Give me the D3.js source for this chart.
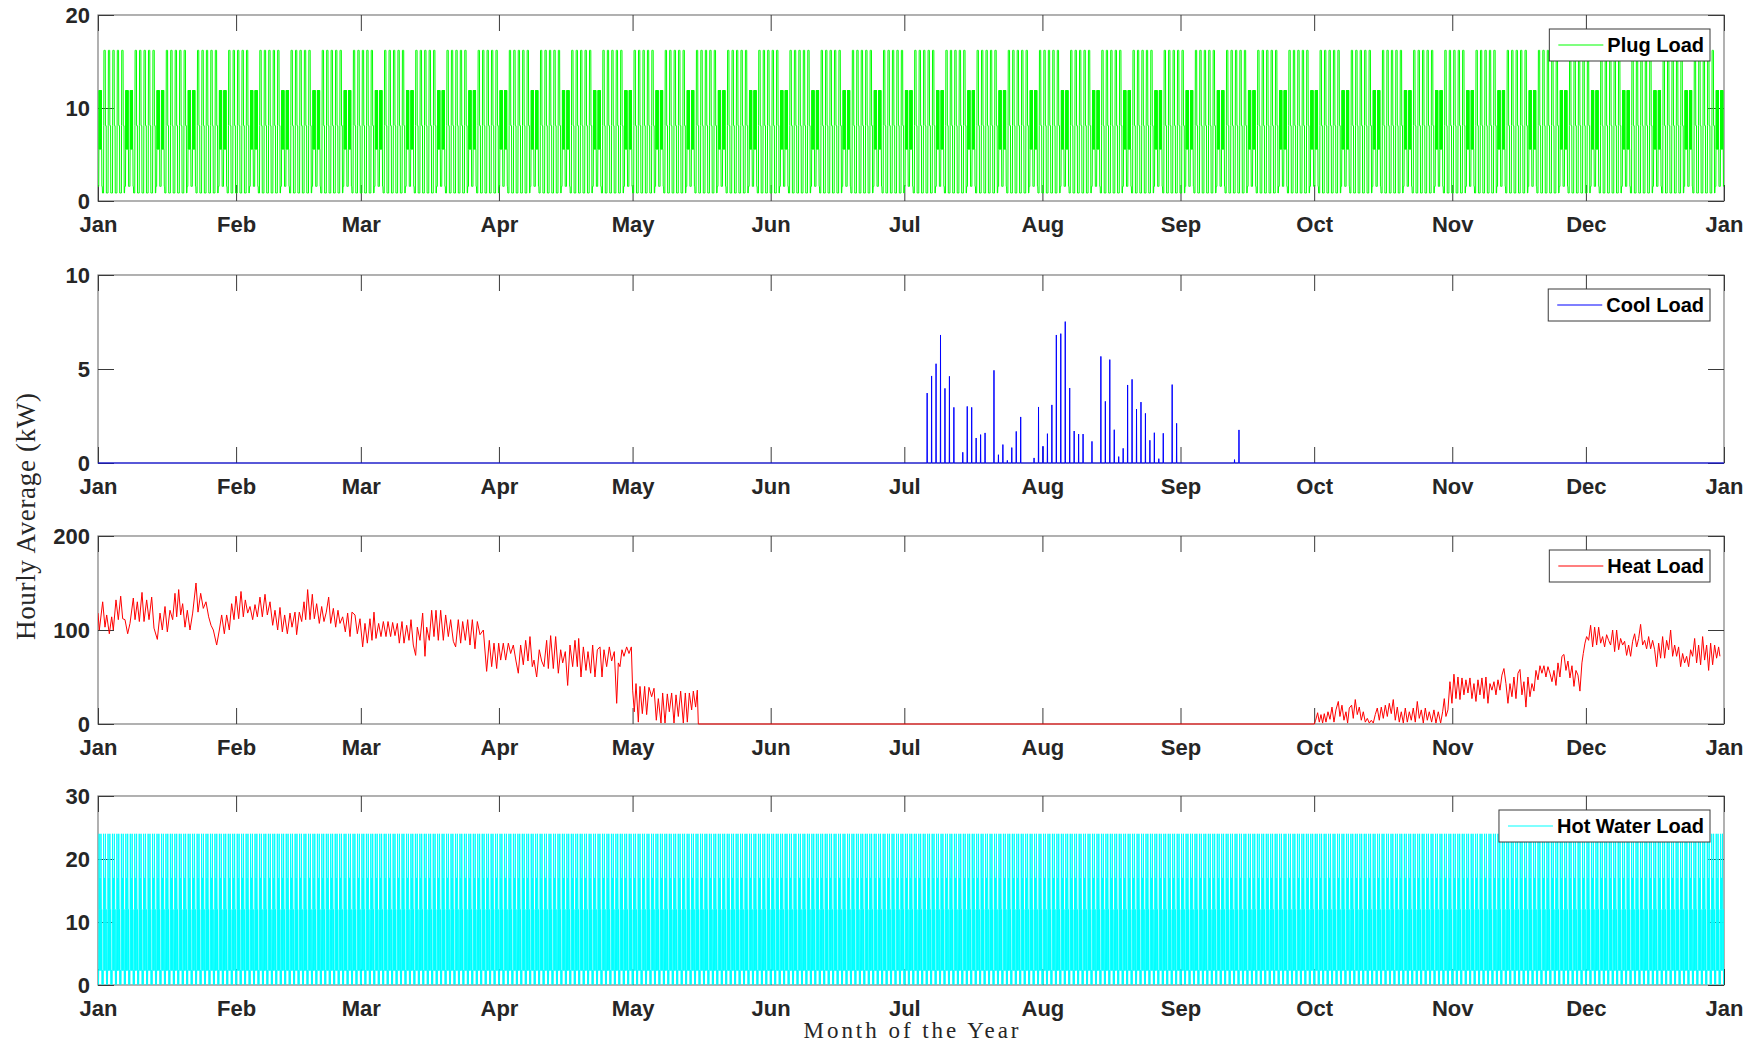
<!DOCTYPE html>
<html>
<head>
<meta charset="utf-8">
<script src="https://cdn.jsdelivr.net/npm/d3@7"></script>
<style>
  body { margin: 0; background: #fff; }
  text { font-family: "Liberation Sans", Arial, sans-serif; }
</style>
</head>
<body>
<svg id="chart" width="1763" height="1044"></svg>
<script>
// ---- calendar ----
const monthStarts = [0, 31, 59, 90, 120, 151, 181, 212, 243, 273, 304, 334, 365];
const monthLabels = ["Jan", "Feb", "Mar", "Apr", "May", "Jun", "Jul", "Aug", "Sep", "Oct", "Nov", "Dec", "Jan"];
const firstDayOfWeek = 0;          // Jan 1 falls on a Sunday
const weekendDays = [0, 6];        // Sunday, Saturday

// ---- plug load schedules (kW, hour 0..23) ----
const plugWeekday = [0.86, 0.86, 0.86, 0.86, 0.86, 0.86, 0.86, 8.1, 16.2, 16.2, 16.2, 16.2,
                     16.2, 16.2, 16.2, 16.2, 8.1, 8.1, 8.1, 8.1, 8.1, 0.86, 0.86, 0.86];
const plugWeekend = [1.57, 1.57, 1.57, 1.57, 1.57, 5.57, 11.9, 5.57, 11.9, 5.57, 11.9, 5.57,
                     11.9, 5.57, 11.9, 5.57, 11.9, 5.57, 11.9, 5.57, 5.57, 1.57, 1.57, 1.57];

// ---- hot water schedule (kW, hour 0..23) ----
const hotWaterDaily = [2.3, 0.1, 2.3, 0.1, 2.3, 12, 24, 17, 12, 2.3, 12, 17,
                       12, 2.3, 12, 17, 24, 17, 12, 2.3, 12, 2.3, 0.1, 2.3];

// ---- cooling events: [day of year, peak kW] ----
const coolEvents = [
  [186, 3.72], [187, 4.63], [188, 5.28], [189, 6.81], [190, 3.97], [191, 4.61], [192, 2.96],
  [194, 0.57], [195, 3.01], [196, 2.96], [197, 1.33], [198, 1.51], [199, 1.60], [201, 4.93],
  [202, 0.44], [203, 0.98], [204, 0.14], [205, 0.82], [206, 1.68], [207, 2.45], [210, 0.27],
  [211, 2.98], [212, 0.90], [213, 1.56], [214, 3.09], [215, 6.81], [216, 6.88], [217, 7.52],
  [218, 3.99], [219, 1.70], [220, 1.54], [221, 1.54], [223, 1.15], [225, 5.67], [226, 3.28],
  [227, 5.50], [228, 1.77], [229, 0.34], [230, 0.78], [231, 4.15], [232, 4.45], [233, 2.87],
  [234, 3.24], [235, 2.64], [236, 1.21], [237, 1.61], [238, 0.23], [239, 1.58], [241, 4.17],
  [242, 2.11], [255, 0.18], [256, 1.76]
];
const coolPeakHour = 3;

// ---- heating load: [day of year, kW] ----
const heatSpring = [
  [0,118],[0.3,100],[1.05,130],[1.57,103],[1.95,116],[2.54,96],[3.07,114],[3.44,100],[4.04,132],[4.56,111],
  [5.09,136],[5.54,112],[6.06,111],[6.66,96],[7.18,107],[7.93,134],[8.31,111],[8.83,130],[9.28,109],[9.88,140],
  [10.33,109],[10.92,132],[11.45,111],[12.05,135],[12.57,102],[13.32,90],[13.92,118],[14.44,100],[15.04,125],[15.56,98],
  [16.16,121],[16.76,111],[17.28,139],[17.66,114],[18.11,143],[18.56,116],[19.0,128],[19.53,103],[20.05,121],[20.65,100],
  [21.25,118],[22.0,150],[22.45,119],[23.05,139],[23.64,123],[24.24,130],[24.84,114],[25.37,105],[25.89,100],[26.64,84],
  [27.24,100],[27.76,116],[28.36,96],[28.88,116],[29.48,100],[30.0,128],[30.53,111],[30.98,136],[31.58,112],[32.1,141],
  [32.62,114],[33.07,132],[33.6,118],[34.12,125],[34.72,111],[35.24,127],[35.77,114],[36.36,135],[36.89,114],[37.49,138],
  [38.01,116],[38.61,130],[39.21,105],[39.73,121],[40.33,100],[40.85,124],[41.38,98],[41.9,116],[42.5,96],[43.1,118],
  [43.55,103],[44.22,119],[44.59,95],[45.19,119],[45.72,109],[46.24,130],[46.62,111],[47.06,143],[47.59,111],[48.11,138],
  [48.56,112],[49.08,128],[49.68,107],[50.21,125],[50.73,109],[51.25,119],[51.78,135],[52.23,107],[52.83,123],[53.35,103],
  [53.87,121],[54.32,107],[54.92,114],[55.52,98],[56.04,118],[56.57,93],[57.01,119],[57.69,116],[58.21,96],[58.81,112],
  [59.41,82],[59.93,107],[60.46,86],[61.05,112],[61.5,89],[61.95,119],[62.4,91],[63.0,107],[63.52,93],[64.05,109],
  [64.65,93],[65.1,109],[65.69,93],[66.14,108],[66.67,94],[67.19,107],[67.64,86],[68.24,109],[68.69,86],[69.29,105],
  [69.81,89],[70.26,111],[70.78,84],[71.31,73],[71.68,103],[72.28,89],[72.88,118],[73.4,72],[73.78,103],[74.37,89],
  [74.9,121],[75.42,93],[75.87,121],[76.39,89],[76.92,121],[77.52,89],[78.04,116],[78.64,93],[79.16,111],[79.76,88],
  [80.28,82],[80.88,111],[81.41,86],[81.86,109],[82.45,89],[82.98,111],[83.5,84],[84.03,111],[84.62,80],[85.15,109],
  [85.75,95],[86.5,100],[87.24,56],[87.84,89],[88.37,61],[88.89,86],[89.49,59],[89.94,86],[90.39,68],[90.98,86],
  [91.51,68],[92.11,86],[92.63,75],[93.23,84],[93.83,67],[94.35,54],[94.87,84],[95.47,63],[96.0,89],[96.52,67],
  [96.97,93],[97.49,61],[97.87,68],[98.47,50],[99.06,79],[99.59,67],[100.11,61],[100.71,89],[101.09,59],[101.61,94],
  [102.21,59],[102.73,93],[103.33,54],[103.86,79],[104.31,65],[104.9,77],[105.43,41],[105.95,84],[106.55,61],[107.07,89],
  [107.6,61],[107.9,91],[108.42,50],[108.95,82],[109.54,57],[109.99,77],[110.59,54],[111.04,84],[111.56,50],[112.09,79],
  [112.69,82],[113.14,50],[113.58,79],[114.18,61],[114.78,82],[115.3,67],[115.9,77],[116.43,22],[116.8,65],[117.17,61],
  [117.62,79],[118.07,72],[118.67,82],[119.2,75],[119.72,82],[120.02,36],[120.39,13],[120.77,43],[121.29,2],[121.66,40],
  [122.19,11],[122.71,40],[123.16,10],[123.68,39],[124.28,29],[124.81,38],[125.33,4],[125.78,27],[126.38,1],[126.75,33],
  [127.28,1],[127.8,32],[128.25,13],[128.77,33],[129.3,1],[129.75,31],[130.27,8],[130.79,35],[131.39,1],[131.84,33],
  [132.29,2],[132.74,33],[133.26,15],[133.64,35],[134.16,18],[134.53,36],[134.76,0]
];
const heatAutumn = [
  [273.03,0],[273.33,4],[273.78,12],[274.15,2],[274.53,10],[274.9,1],[275.27,11],[275.65,2],[276.1,13],[276.55,5],
  [277.0,18],[277.45,2],[277.89,15],[278.42,24],[278.79,8],[279.24,20],[279.69,4],[280.14,13],[280.51,1],[280.89,17],
  [281.41,20],[281.78,6],[282.23,26],[282.68,10],[283.13,18],[283.58,4],[284.03,13],[284.48,2],[284.93,6],[285.38,1],
  [285.82,4],[286.27,1],[286.72,10],[287.17,17],[287.62,4],[288.07,18],[288.52,6],[288.97,20],[289.42,8],[289.87,22],
  [290.31,11],[290.76,26],[291.21,4],[291.66,18],[292.11,2],[292.56,13],[293.01,1],[293.46,17],[293.91,2],[294.36,13],
  [294.8,4],[295.25,17],[295.7,2],[296.15,24],[296.6,6],[297.05,15],[297.5,1],[297.95,17],[298.4,4],[298.84,13],
  [299.37,2],[299.89,15],[300.34,1],[300.86,13],[301.39,1],[301.84,13],[302.21,27],[302.58,8],[303.03,15],[303.48,45],
  [303.93,22],[304.38,53],[304.83,27],[305.28,50],[305.73,26],[306.18,49],[306.62,31],[307.07,47],[307.52,33],[307.97,49],
  [308.42,27],[308.87,43],[309.32,24],[309.77,47],[310.22,31],[310.66,49],[311.11,27],[311.56,50],[312.01,22],[312.46,43],
  [312.91,36],[313.36,45],[313.81,31],[314.26,47],[314.71,36],[315.15,52],[315.6,59],[316.05,43],[316.5,22],[316.95,43],
  [317.4,29],[317.85,50],[318.3,27],[318.75,54],[319.2,58],[319.64,31],[320.09,45],[320.54,18],[320.99,50],[321.44,29],
  [321.89,43],[322.34,35],[322.79,57],[323.24,47],[323.69,62],[324.13,54],[324.58,62],[325.03,50],[325.48,61],[325.93,54],
  [326.38,45],[326.83,57],[327.28,41],[327.73,65],[328.17,50],[328.62,72],[329.07,74],[329.52,57],[329.97,67],[330.42,49],
  [330.87,62],[331.32,40],[331.77,57],[332.22,52],[332.66,35],[333.11,65],[333.41,75],[333.79,86],[334.16,93],[334.61,89],
  [335.06,105],[335.51,82],[335.96,103],[336.41,84],[336.86,103],[337.31,86],[337.75,93],[338.2,82],[338.65,95],[339.1,89],
  [339.55,84],[340.0,100],[340.45,77],[340.9,100],[341.35,79],[341.79,91],[342.24,84],[342.69,88],[343.14,73],[343.59,84],
  [344.04,72],[344.49,88],[344.94,96],[345.39,82],[345.84,91],[346.28,106],[346.73,84],[347.18,89],[347.63,80],[348.08,93],
  [348.53,80],[348.98,89],[349.43,79],[349.88,61],[350.33,86],[350.77,70],[351.22,93],[351.67,70],[352.12,89],[352.57,79],
  [353.02,100],[353.47,72],[353.92,84],[354.36,72],[354.81,82],[355.26,61],[355.71,75],[356.16,65],[356.61,72],[357.06,61],
  [357.51,79],[357.96,72],[358.41,91],[358.85,65],[359.3,84],[359.75,63],[360.2,93],[360.65,68],[361.1,84],[361.55,57],
  [362.0,86],[362.45,63],[362.89,84],[363.34,70],[363.79,82],[364.09,72]
];

// ---- y axes ----
const plugTicks = [0, 10, 20];
const coolTicks = [0, 5, 10];
const heatTicks = [0, 100, 200];
const hotWaterTicks = [0, 10, 20, 30];

// ---- build the hourly series ----
function hourlyFromSchedule(pick) {
  const pts = [];
  for (let d = 0; d < 365; d++) {
    const prof = pick(d);
    for (let h = 0; h < 24; h++) pts.push([d + h / 24, prof[h]]);
  }
  return pts;
}
const isWeekend = d => weekendDays.includes((firstDayOfWeek + d) % 7);
const plugSeries = hourlyFromSchedule(d => isWeekend(d) ? plugWeekend : plugWeekday);
const hotWaterSeries = hourlyFromSchedule(() => hotWaterDaily);
const coolSeries = [[0, 0]];
coolEvents.forEach(([d, kw]) => {
  coolSeries.push([d + (coolPeakHour - 1) / 24, 0], [d + coolPeakHour / 24, kw], [d + (coolPeakHour + 1) / 24, 0]);
});
coolSeries.push([365, 0]);
const heatSeries = heatSpring.concat(heatAutumn);

// ---- layout ----
const svg = d3.select("#chart");
const left = 98, right = 1724;
const panels = [
  { name: "Plug Load", color: "#00ff00", ticks: plugTicks, data: plugSeries, top: 15, h: 186 },
  { name: "Cool Load", color: "#0000ff", ticks: coolTicks, data: coolSeries, top: 275, h: 188 },
  { name: "Heat Load", color: "#ff0000", ticks: heatTicks, data: heatSeries, top: 536, h: 188 },
  { name: "Hot Water Load", color: "#00ffff", ticks: hotWaterTicks, data: hotWaterSeries, top: 796, h: 189 }
];

const x = d3.scaleLinear().domain([0, 365]).range([0, right - left]);
const tickLen = 16;
const tickColor = "#3a3a3a";
const labelColor = "#262626";

panels.forEach((p, i) => {
  const g = svg.append("g").attr("transform", `translate(${left},${p.top})`);
  const w = right - left;
  const y = d3.scaleLinear().domain([0, d3.max(p.ticks)]).range([p.h, 0]);

  // frame (drawn first so the series sits on top of it)
  g.append("rect").attr("x", 0).attr("y", 0).attr("width", w).attr("height", p.h)
    .attr("fill", "none").attr("stroke", "#7d7d7d").attr("stroke-width", 1.2);

  g.append("clipPath").attr("id", "clip" + i)
    .append("rect").attr("x", 0).attr("y", -1).attr("width", w).attr("height", p.h + 2);

  // axes
  const axB = g.append("g").attr("transform", `translate(0,${p.h})`)
    .call(d3.axisBottom(x).tickValues(monthStarts)
      .tickFormat((d, k) => monthLabels[k]).tickSizeInner(-tickLen).tickSizeOuter(0).tickPadding(15));
  const axT = g.append("g")
    .call(d3.axisTop(x).tickValues(monthStarts).tickFormat("").tickSizeInner(-tickLen).tickSizeOuter(0));
  const axL = g.append("g")
    .call(d3.axisLeft(y).tickValues(p.ticks).tickSizeInner(-tickLen).tickSizeOuter(0).tickPadding(8));
  const axR = g.append("g").attr("transform", `translate(${w},0)`)
    .call(d3.axisRight(y).tickValues(p.ticks).tickFormat("").tickSizeInner(-tickLen).tickSizeOuter(0));
  [axB, axT, axL, axR].forEach(a => {
    a.select(".domain").remove();
    a.selectAll(".tick line").attr("stroke", tickColor).attr("stroke-width", 1);
    a.selectAll("text").attr("fill", labelColor)
      .style("font-family", "'Liberation Sans', Arial, sans-serif")
      .style("font-weight", "bold").style("font-size", "22px");
  });

  // data line
  g.append("path")
    .datum(p.data)
    .attr("clip-path", `url(#clip${i})`)
    .attr("fill", "none")
    .attr("stroke", p.color)
    .attr("stroke-width", 1)
    .attr("stroke-linejoin", "miter")
    .attr("d", d3.line().x(d => x(d[0])).y(d => y(d[1])));

  // legend
  const lg = g.append("g");
  const txt = lg.append("text").text(p.name)
    .attr("font-weight", "bold").attr("font-size", 20).attr("fill", "#000");
  const tw = txt.node().getComputedTextLength();
  const bw = 9 + 45 + 4 + tw + 6, bh = 32;
  const bx = w - 14 - bw, by = 14;
  lg.insert("rect", "text").attr("x", bx).attr("y", by).attr("width", bw).attr("height", bh)
    .attr("fill", "#fff").attr("stroke", "#3a3a3a").attr("stroke-width", 1);
  lg.insert("line", "text").attr("x1", bx + 9).attr("x2", bx + 54)
    .attr("y1", by + bh / 2).attr("y2", by + bh / 2)
    .attr("stroke", p.color).attr("stroke-width", 1.2);
  txt.attr("x", bx + 58).attr("y", by + bh / 2 + 7);
});

// axis titles
svg.append("text")
  .attr("transform", "translate(35,516.5) rotate(-90)")
  .attr("text-anchor", "middle")
  .style("font-family", "'Liberation Serif', 'DejaVu Serif', serif")
  .style("font-size", "27px")
  .attr("textLength", 247).attr("lengthAdjust", "spacing")
  .attr("fill", labelColor)
  .text("Hourly Average (kW)");

svg.append("text")
  .attr("x", 911).attr("y", 1038)
  .attr("text-anchor", "middle")
  .style("font-family", "'Liberation Serif', 'DejaVu Serif', serif")
  .style("font-size", "23px")
  .attr("textLength", 215).attr("lengthAdjust", "spacing")
  .attr("fill", labelColor)
  .text("Month of the Year");
</script>
</body>
</html>
